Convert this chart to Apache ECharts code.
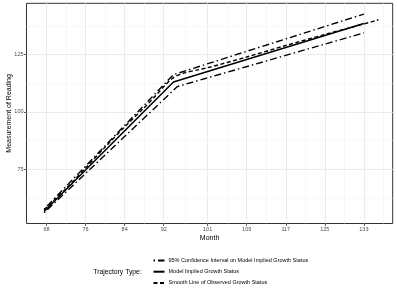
<!DOCTYPE html>
<html>
<head>
<meta charset="utf-8">
<script src="https://cdn.jsdelivr.net/npm/echarts@6/dist/echarts.min.js"></script>
<style>html,body{margin:0;padding:0;background:#fff}#c{width:397px;height:297px}</style>
</head>
<body>
<div id="c"></div>
<script>
// ---- data ----
const xTickLabels = [68, 76, 84, 92, 101, 109, 117, 125, 133];
const xMinorTicks = [72, 80, 88, 96.5, 105, 113, 121, 129, 137];
const yTickLabels = [75, 100, 125];
const yMinorTicks = [62.5, 87.5, 112.5, 137.5];

const modelMonths = [67.5, 94, 133];
const modelValues = [56.5, 113, 138.5];

const ciUpperMonths = [67.5, 94, 133];
const ciUpperValues = [57.5, 116.2, 142.6];

const ciLowerMonths = [67.5, 94.8, 133];
const ciLowerValues = [56.0, 111.0, 134.4];

const smoothMonths = [67.5, 72, 76, 80, 84, 88, 90, 92, 94, 96, 99, 101, 109, 117, 125, 133, 136];
const smoothValues = [57.3, 66.5, 75.5, 84.6, 93.4, 101.8, 106.2, 110.9, 114.9, 116.8, 118.3, 119.2, 123.9, 128.9, 133.7, 138.3, 140.1];

const seriesNames = [
  '95% Confidence Interval on Model Implied Growth Status',
  'Model Implied Growth Status',
  'Smooth Line of Observed Growth Status'
];

function pairs(xs, ys) { return xs.map((x, i) => [x, ys[i]]); }

const FONT = 'Liberation Sans, Arial, Helvetica, sans-serif';
const X_MIN = 63.9, X_MAX = 138.9, Y_MIN = 51.3, Y_MAX = 147.3;
const dotdash = [1.5, 3, 7, 3];
const dashed = [4, 2.5];

const chart = echarts.init(document.getElementById('c'), null, {renderer: 'canvas'});
chart.setOption({
  animation: false,
  backgroundColor: '#ffffff',
  grid: {left: 26.5, right: 4.3, top: 3.3, bottom: 73.5, containLabel: false, outerBoundsMode: 'none',
         show: true, borderColor: '#333333', borderWidth: 1, backgroundColor: 'transparent'},
  title: {
    text: 'Trajectory Type:', left: 93.3, top: 268.3,
    padding: 0,
    textStyle: {fontFamily: FONT, fontSize: 6.8, fontWeight: 'normal', color: '#000'}
  },
  legend: {
    orient: 'vertical', left: 152.5, top: 257.3, padding: 0,
    itemWidth: 11, itemHeight: 8, itemGap: 4.8,
    data: seriesNames,
    itemStyle: {opacity: 0},
    lineStyle: {width: 2},
    textStyle: {fontFamily: FONT, fontSize: 5.5, color: '#000', padding: [0, 0, 0, -1]}
  },
  xAxis: [
    {
      type: 'value', min: X_MIN, max: X_MAX,
      name: 'Month', nameLocation: 'middle', nameGap: 11.5, nameMoveOverlap: false,
      nameTextStyle: {fontFamily: FONT, fontSize: 7, color: '#000'},
      axisLine: {show: false, onZero: false},
      axisTick: {show: true, length: 2.5, customValues: xTickLabels, lineStyle: {color: '#333333', width: 0.8}},
      axisLabel: {customValues: xTickLabels, fontFamily: FONT, fontSize: 5.5, color: '#4D4D4D', margin: 2.8},
      splitLine: {show: true, customValues: xTickLabels, lineStyle: {color: '#EBEBEB', width: 1}}
    },
    {
      type: 'value', min: X_MIN, max: X_MAX, position: 'bottom',
      axisLine: {show: false, onZero: false},
      axisTick: {show: false, customValues: xMinorTicks},
      axisLabel: {show: false, customValues: xMinorTicks},
      splitLine: {show: true, customValues: xMinorTicks, lineStyle: {color: '#F2F2F2', width: 0.6}}
    }
  ],
  yAxis: [
    {
      type: 'value', min: Y_MIN, max: Y_MAX,
      name: 'Measurement of Reading', nameLocation: 'middle', nameGap: 14, nameRotate: 90, nameMoveOverlap: false,
      nameTextStyle: {fontFamily: FONT, fontSize: 7, color: '#000'},
      axisLine: {show: false, onZero: false},
      axisTick: {show: true, length: 2.5, customValues: yTickLabels, lineStyle: {color: '#333333', width: 0.8}},
      axisLabel: {customValues: yTickLabels, fontFamily: FONT, fontSize: 5.5, color: '#4D4D4D', margin: 3},
      splitLine: {show: true, customValues: yTickLabels, lineStyle: {color: '#EBEBEB', width: 1}}
    },
    {
      type: 'value', min: Y_MIN, max: Y_MAX, position: 'left',
      axisLine: {show: false, onZero: false},
      axisTick: {show: false, customValues: yMinorTicks},
      axisLabel: {show: false, customValues: yMinorTicks},
      splitLine: {show: true, customValues: yMinorTicks, lineStyle: {color: '#F2F2F2', width: 0.6}}
    }
  ],
  series: [
    {
      name: seriesNames[0], type: 'line', xAxisIndex: 0, yAxisIndex: 0,
      data: pairs(ciUpperMonths, ciUpperValues), symbol: 'none', z: 3,
      lineStyle: {color: '#000', width: 1.4, type: dotdash}, itemStyle: {color: '#000'}
    },
    {
      name: seriesNames[0], type: 'line', xAxisIndex: 0, yAxisIndex: 0,
      data: pairs(ciLowerMonths, ciLowerValues), symbol: 'none', z: 3,
      lineStyle: {color: '#000', width: 1.4, type: dotdash}, itemStyle: {color: '#000'}
    },
    {
      name: seriesNames[1], type: 'line', xAxisIndex: 0, yAxisIndex: 0,
      data: pairs(modelMonths, modelValues), symbol: 'none', z: 3,
      lineStyle: {color: '#000', width: 1.5, type: 'solid'}, itemStyle: {color: '#000'}
    },
    {
      name: seriesNames[2], type: 'line', xAxisIndex: 0, yAxisIndex: 0,
      data: pairs(smoothMonths, smoothValues), symbol: 'none', smooth: 0.3, z: 3,
      lineStyle: {color: '#000', width: 1.4, type: dashed}, itemStyle: {color: '#000'}
    }
  ]
});
</script>
</body>
</html>
